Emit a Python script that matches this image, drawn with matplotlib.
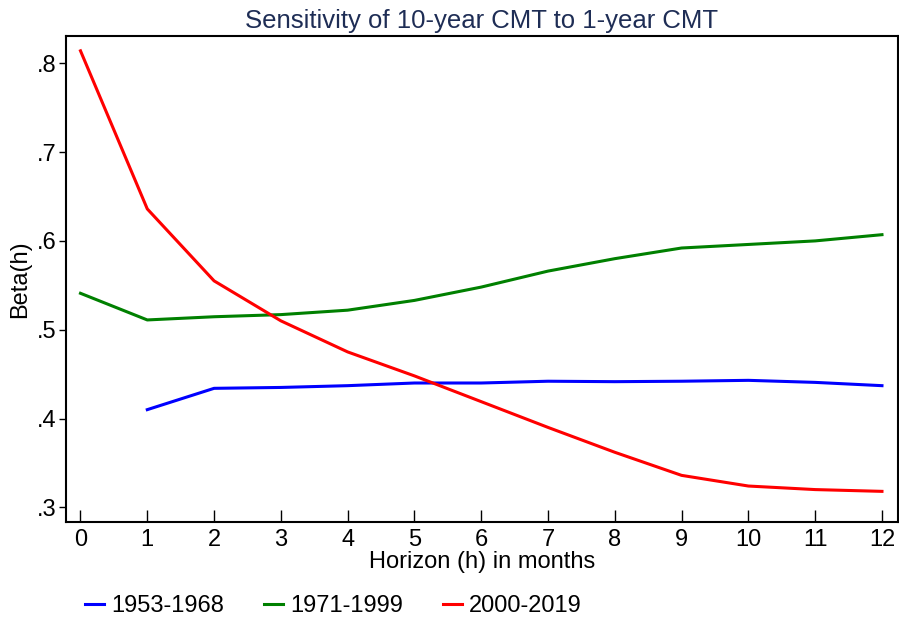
import matplotlib.pyplot as plt
import matplotlib.ticker as mticker

plt.rcParams["font.family"] = ["Liberation Sans", "DejaVu Sans"]

HORIZON = list(range(13))
HORIZON_1953 = list(range(1, 13))

BETA_1953_1968 = [0.410, 0.434, 0.435, 0.437, 0.440, 0.440, 0.442, 0.4415, 0.442, 0.443, 0.4407, 0.437]
BETA_1971_1999 = [0.541, 0.511, 0.5146, 0.517, 0.522, 0.533, 0.548, 0.566, 0.580, 0.592, 0.596, 0.600, 0.607]
BETA_2000_2019 = [0.814, 0.636, 0.555, 0.510, 0.475, 0.448, 0.419, 0.390, 0.362, 0.336, 0.324, 0.320, 0.318]

LABELS = ["1953-1968", "1971-1999", "2000-2019"]


def plot_beta():
    fig = plt.figure(figsize=(8.99, 6.17), dpi=100)
    ax = fig.add_axes([66 / 899, 1 - 522 / 617, 832 / 899, 486 / 617])

    ax.plot(HORIZON_1953, BETA_1953_1968, color="#0000ff", lw=2.2, label=LABELS[0])
    ax.plot(HORIZON, BETA_1971_1999, color="#008000", lw=2.2, label=LABELS[1])
    ax.plot(HORIZON, BETA_2000_2019, color="#ff0000", lw=2.2, label=LABELS[2])

    ax.set_xlim(-0.217, 12.24)
    ax.set_ylim(0.2835, 0.8307)
    ax.set_xticks(HORIZON)
    ax.set_yticks([0.3, 0.4, 0.5, 0.6, 0.7, 0.8])
    ax.yaxis.set_major_formatter(mticker.FuncFormatter(lambda v, p: ("%.1f" % v).lstrip("0")))
    ax.tick_params(axis="x", direction="in", length=9, width=1, labelsize=17, pad=5)
    ax.tick_params(axis="y", direction="out", length=5, width=1, labelsize=17, pad=2)
    for s in ax.spines.values():
        s.set_linewidth(1.5)

    ax.set_xlabel("Horizon (h) in months", fontsize=17, labelpad=0)
    ax.set_ylabel("Beta(h)", fontsize=17, labelpad=4)
    ax.set_title("Sensitivity of 10-year CMT to 1-year CMT", fontsize=18.5, color="#1e2d55", pad=6)

    fig.legend(loc="center left", bbox_to_anchor=(64 / 899, 1 - 606 / 617), ncol=3, frameon=False,
               fontsize=17, handlelength=0.8, handletextpad=0.3, columnspacing=1.7)
    fig.savefig("out.png", dpi=100)


if __name__ == "__main__":
    plot_beta()
